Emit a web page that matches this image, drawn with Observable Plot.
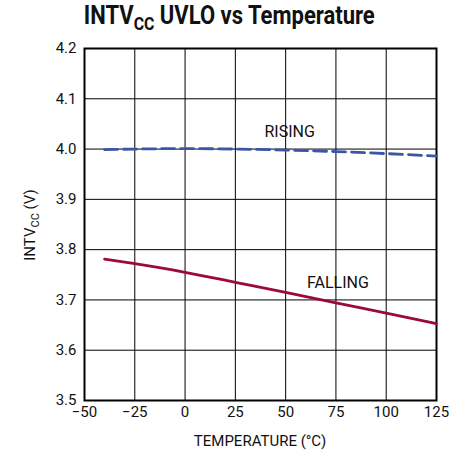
<!DOCTYPE html>
<html>
<head>
<meta charset="utf-8">
<script src="https://cdn.jsdelivr.net/npm/d3@7"></script>
<script src="https://cdn.jsdelivr.net/npm/@observablehq/plot@0.6"></script>
<style>
  html, body { margin: 0; padding: 0; background: #fff; }
  #wrap { width: 466px; height: 458px; position: relative; font-family: Roboto, sans-serif; }
  #title { height: 40px; width: 466px; text-align: center; box-sizing: border-box; padding-top: 2px; }
  #title span { display: inline-block; transform: scale(0.88, 1); transform-origin: center; margin-left: -8px;
           font-weight: bold; font-size: 25px; color: #111; line-height: 28px; white-space: nowrap; }
  #title sub { font-size: 18px; vertical-align: -6px; line-height: 0; }
</style>
</head>
<body>
<div id="wrap">
  <div id="title"><span>INTV<sub>CC</sub> UVLO vs Temperature</span></div>
  <div id="chart"></div>
</div>
<script>
const temps = [-40, -25, 0, 25, 50, 75, 100, 125];
const rising = [3.999, 4.000, 4.001, 4.000, 3.998, 3.995, 3.991, 3.986];
const falling = [3.781, 3.772, 3.755, 3.735, 3.715, 3.694, 3.674, 3.653];
const xTicks = [-50, -25, 0, 25, 50, 75, 100, 125];
const yTicks = [3.5, 3.6, 3.7, 3.8, 3.9, 4.0, 4.1, 4.2];
const labels = [
  {t: 52, v: 4.034, text: "RISING"},
  {t: 76, v: 3.734, text: "FALLING"}
];

const risingData = temps.map((t, i) => ({t, v: rising[i]}));
const fallingData = temps.map((t, i) => ({t, v: falling[i]}));

const chart = Plot.plot({
  width: 466,
  height: 418,
  marginTop: 8,
  marginBottom: 58,
  marginLeft: 84,
  marginRight: 30,
  style: {fontFamily: 'Roboto, sans-serif', fontSize: "15px", color: "#111", background: "#fff"},
  x: {domain: [-50, 125], ticks: xTicks, tickSize: 0, tickPadding: 6, label: null},
  y: {domain: [3.5, 4.2], ticks: yTicks, tickSize: 0, tickPadding: 8, tickFormat: d3.format(".1f"), label: null},
  marks: [
    Plot.gridX(xTicks, {stroke: "#000", strokeOpacity: 1, strokeWidth: 1}),
    Plot.gridY(yTicks, {stroke: "#000", strokeOpacity: 1, strokeWidth: 1}),
    Plot.frame({stroke: "#000", strokeWidth: 2}),
    Plot.line(risingData, {x: "t", y: "v", stroke: "#3b56a6", strokeWidth: 2.8, strokeDasharray: "13,6", curve: "monotone-x"}),
    Plot.line(fallingData, {x: "t", y: "v", stroke: "#9c0a3b", strokeWidth: 2.8, curve: "monotone-x"}),
    Plot.text(labels, {x: "t", y: "v", text: "text", fill: "#111", fontSize: 16})
  ]
});
document.getElementById("chart").appendChild(chart);

const svg = d3.select(chart);
// X-axis label
svg.append("text")
  .attr("x", 260).attr("y", 406)
  .attr("text-anchor", "middle")
  .attr("font-size", 15)
  .attr("fill", "#111")
  .text("TEMPERATURE (°C)");
// Y-axis label with subscript
const lbl = svg.append("text")
  .attr("transform", "translate(35,185) rotate(-90)")
  .attr("text-anchor", "middle")
  .attr("font-size", 15)
  .attr("fill", "#111");
lbl.append("tspan").text("INTV");
lbl.append("tspan").attr("font-size", 11).attr("dy", 4).text("CC");
lbl.append("tspan").attr("dy", -4).text(" (V)");
</script>
</body>
</html>
